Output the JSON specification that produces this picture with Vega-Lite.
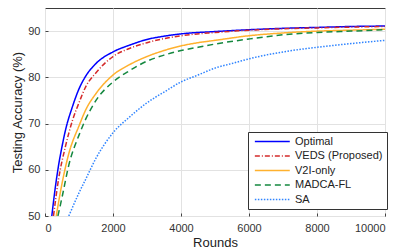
{
  "$schema": "https://vega.github.io/schema/vega-lite/v6.json",
  "width": 340,
  "height": 208,
  "autosize": {"type": "none"},
  "padding": {"left": 45, "top": 8, "right": 18, "bottom": 35},
  "config": {
    "font": "Liberation Sans",
    "view": {"stroke": "#3a3a3a", "strokeWidth": 1},
    "background": "white"
  },
  "data": {
    "values": [
      {"m": "Optimal", "r": 200, "a": 50},
      {"m": "Optimal", "r": 300, "a": 56},
      {"m": "Optimal", "r": 400, "a": 61},
      {"m": "Optimal", "r": 500, "a": 65},
      {"m": "Optimal", "r": 600, "a": 68.5},
      {"m": "Optimal", "r": 800, "a": 73.5},
      {"m": "Optimal", "r": 1000, "a": 77.5},
      {"m": "Optimal", "r": 1200, "a": 80.3},
      {"m": "Optimal", "r": 1500, "a": 83},
      {"m": "Optimal", "r": 2000, "a": 85.5},
      {"m": "Optimal", "r": 2500, "a": 87},
      {"m": "Optimal", "r": 3000, "a": 88.2},
      {"m": "Optimal", "r": 3500, "a": 88.9},
      {"m": "Optimal", "r": 4000, "a": 89.4},
      {"m": "Optimal", "r": 5000, "a": 89.9},
      {"m": "Optimal", "r": 6000, "a": 90.3},
      {"m": "Optimal", "r": 7000, "a": 90.6},
      {"m": "Optimal", "r": 8000, "a": 90.8},
      {"m": "Optimal", "r": 9000, "a": 91},
      {"m": "Optimal", "r": 10000, "a": 91.1},
      {"m": "VEDS (Proposed)", "r": 250, "a": 50},
      {"m": "VEDS (Proposed)", "r": 400, "a": 58},
      {"m": "VEDS (Proposed)", "r": 600, "a": 65},
      {"m": "VEDS (Proposed)", "r": 800, "a": 70.5},
      {"m": "VEDS (Proposed)", "r": 1000, "a": 74.5},
      {"m": "VEDS (Proposed)", "r": 1200, "a": 78},
      {"m": "VEDS (Proposed)", "r": 1500, "a": 81},
      {"m": "VEDS (Proposed)", "r": 2000, "a": 84.5},
      {"m": "VEDS (Proposed)", "r": 2500, "a": 86.3},
      {"m": "VEDS (Proposed)", "r": 3000, "a": 87.5},
      {"m": "VEDS (Proposed)", "r": 4000, "a": 89},
      {"m": "VEDS (Proposed)", "r": 5000, "a": 89.7},
      {"m": "VEDS (Proposed)", "r": 6000, "a": 90.2},
      {"m": "VEDS (Proposed)", "r": 7000, "a": 90.5},
      {"m": "VEDS (Proposed)", "r": 8000, "a": 90.7},
      {"m": "VEDS (Proposed)", "r": 10000, "a": 91},
      {"m": "V2I-only", "r": 330, "a": 50},
      {"m": "V2I-only", "r": 500, "a": 57},
      {"m": "V2I-only", "r": 700, "a": 63.5},
      {"m": "V2I-only", "r": 1000, "a": 69.5},
      {"m": "V2I-only", "r": 1200, "a": 73},
      {"m": "V2I-only", "r": 1500, "a": 76.5},
      {"m": "V2I-only", "r": 2000, "a": 80.5},
      {"m": "V2I-only", "r": 2500, "a": 82.8},
      {"m": "V2I-only", "r": 3000, "a": 84.5},
      {"m": "V2I-only", "r": 3500, "a": 85.8},
      {"m": "V2I-only", "r": 4000, "a": 86.8},
      {"m": "V2I-only", "r": 4500, "a": 87.5},
      {"m": "V2I-only", "r": 5000, "a": 88},
      {"m": "V2I-only", "r": 6000, "a": 89},
      {"m": "V2I-only", "r": 7000, "a": 89.6},
      {"m": "V2I-only", "r": 8000, "a": 90},
      {"m": "V2I-only", "r": 9000, "a": 90.2},
      {"m": "V2I-only", "r": 10000, "a": 90.4},
      {"m": "MADCA-FL", "r": 380, "a": 50},
      {"m": "MADCA-FL", "r": 500, "a": 54},
      {"m": "MADCA-FL", "r": 700, "a": 61},
      {"m": "MADCA-FL", "r": 1000, "a": 67.5},
      {"m": "MADCA-FL", "r": 1200, "a": 71},
      {"m": "MADCA-FL", "r": 1500, "a": 75},
      {"m": "MADCA-FL", "r": 2000, "a": 79},
      {"m": "MADCA-FL", "r": 2500, "a": 81.5},
      {"m": "MADCA-FL", "r": 3000, "a": 83.5},
      {"m": "MADCA-FL", "r": 3500, "a": 84.8},
      {"m": "MADCA-FL", "r": 4000, "a": 85.8},
      {"m": "MADCA-FL", "r": 4500, "a": 86.5},
      {"m": "MADCA-FL", "r": 5000, "a": 87.2},
      {"m": "MADCA-FL", "r": 6000, "a": 88.3},
      {"m": "MADCA-FL", "r": 7000, "a": 89.2},
      {"m": "MADCA-FL", "r": 8000, "a": 89.7},
      {"m": "MADCA-FL", "r": 9000, "a": 90},
      {"m": "MADCA-FL", "r": 10000, "a": 90.3},
      {"m": "SA", "r": 700, "a": 50},
      {"m": "SA", "r": 1000, "a": 55},
      {"m": "SA", "r": 1200, "a": 58},
      {"m": "SA", "r": 1500, "a": 62.5},
      {"m": "SA", "r": 2000, "a": 68},
      {"m": "SA", "r": 2500, "a": 71.5},
      {"m": "SA", "r": 3000, "a": 74.5},
      {"m": "SA", "r": 3500, "a": 76.8},
      {"m": "SA", "r": 4000, "a": 79},
      {"m": "SA", "r": 4500, "a": 80.5},
      {"m": "SA", "r": 5000, "a": 82},
      {"m": "SA", "r": 5500, "a": 83},
      {"m": "SA", "r": 6000, "a": 84},
      {"m": "SA", "r": 7000, "a": 85.5},
      {"m": "SA", "r": 8000, "a": 86.5},
      {"m": "SA", "r": 9000, "a": 87.3},
      {"m": "SA", "r": 10000, "a": 88}
    ]
  },
  "mark": {"type": "line", "strokeWidth": 1.5, "clip": true, "interpolate": "monotone"},
  "encoding": {
    "x": {
      "field": "r", "type": "quantitative",
      "scale": {"domain": [0, 10000], "nice": false},
      "axis": {
        "title": "Rounds", "values": [0, 2000, 4000, 6000, 8000, 10000], "format": "d",
        "grid": true, "gridColor": "#e2e2e2", "domain": false,
        "ticks": true, "tickSize": -3, "tickColor": "#444",
        "labelFontSize": 11, "labelColor": "#333", "labelPadding": 9,
        "titleFontSize": 13, "titleFontWeight": "normal", "titleColor": "#222", "titlePadding": 3
      }
    },
    "y": {
      "field": "a", "type": "quantitative",
      "scale": {"domain": [50, 95], "nice": false},
      "axis": {
        "title": "Testing Accuracy (%)", "values": [50, 60, 70, 80, 90],
        "grid": true, "gridColor": "#e2e2e2", "domain": false,
        "ticks": true, "tickSize": -3, "tickColor": "#444",
        "labelFontSize": 11, "labelColor": "#333", "labelPadding": 8,
        "titleFontSize": 13, "titleFontWeight": "normal", "titleColor": "#222", "titlePadding": 3
      }
    },
    "color": {
      "field": "m", "type": "nominal",
      "scale": {
        "domain": ["Optimal", "VEDS (Proposed)", "V2I-only", "MADCA-FL", "SA"],
        "range": ["#0000ff", "#d42a2a", "#ffb12e", "#15883f", "#2f84ff"]
      },
      "legend": {
        "title": null, "orient": "none", "legendX": 203, "legendY": 124,
        "symbolType": "M-1,0H12.2", "symbolSize": 28, "symbolStrokeWidth": 1.5,
        "labelFontSize": 11, "labelColor": "#222", "rowPadding": 2.5,
        "strokeColor": "#333", "fillColor": "white", "padding": 4, "labelOffset": 32
      }
    },
    "strokeDash": {
      "field": "m", "type": "nominal",
      "scale": {
        "domain": ["Optimal", "VEDS (Proposed)", "V2I-only", "MADCA-FL", "SA"],
        "range": [[1, 0], [5, 2, 1, 2], [1, 0], [6, 4], [1.5, 1.5]]
      },
      "legend": null
    }
  }
}
